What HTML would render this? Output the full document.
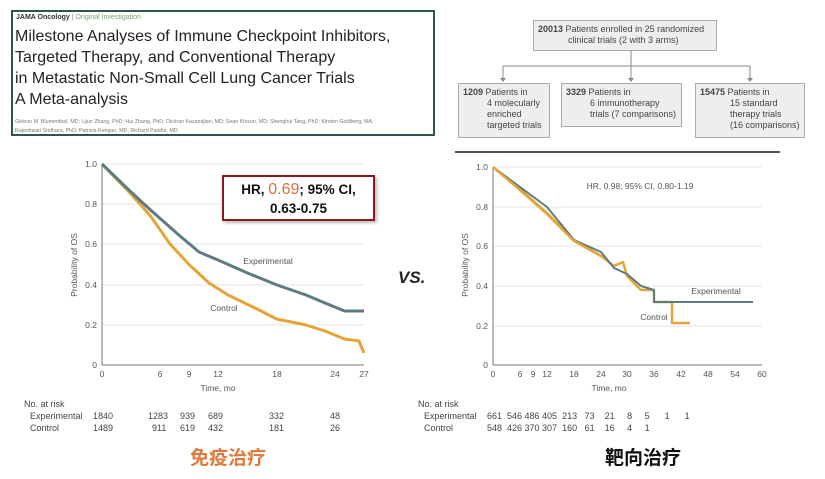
<!DOCTYPE html>
<html><head><meta charset="utf-8"><style>
body{margin:0;width:825px;height:479px;background:#fff;overflow:hidden;font-family:"Liberation Sans",sans-serif;position:relative}
.a{position:absolute;white-space:nowrap}
.fb{position:absolute;border:1px solid #aaa;background:#eee;font-size:9px;color:#444;line-height:11px;padding:3px 4px;box-sizing:border-box;white-space:nowrap;overflow:hidden}
.fb i{font-style:normal;display:block}
.rt{position:absolute;font-size:9px;color:#444;font-family:"Liberation Sans Narrow","Liberation Sans",sans-serif}
</style></head><body>
<div class="a" style="left:11px;top:10px;width:424px;height:126px;border:2px solid #2d5450;box-sizing:border-box"></div>
<div class="a" style="left:16px;top:14px;font-size:7px;font-weight:bold;color:#333">JAMA Oncology <span style="color:#888;font-weight:normal">|</span> <span style="color:#7aa37a;font-weight:normal">Original Investigation</span></div>
<div class="a" style="left:15px;top:26px;font-size:16px;line-height:21px;color:#222">Milestone Analyses of Immune Checkpoint Inhibitors,<br>Targeted Therapy, and Conventional Therapy<br>in Metastatic Non-Small Cell Lung Cancer Trials<br>A Meta-analysis</div>
<div class="a" style="left:15px;top:118px;font-size:5.3px;line-height:9px;color:#777">Gideon M. Blumenthal, MD; Lijun Zhang, PhD; Hui Zhang, PhD; Dickran Kazandjian, MD; Sean Khozin, MD; Shenghui Tang, PhD; Kirsten Goldberg, MA;<br>Rajeshwari Sridhara, PhD; Patricia Keegan, MD; Richard Pazdur, MD</div>

<svg class="a" style="left:0;top:0" width="825" height="479">
<g stroke="#888" fill="none" stroke-width="1">
<line x1="631" y1="51" x2="631" y2="79"/><line x1="503" y1="66" x2="750" y2="66"/>
<line x1="503" y1="66" x2="503" y2="80"/><line x1="750" y1="66" x2="750" y2="80"/>
</g>
<g fill="#888"><path d="M500 78h6l-3 4z"/><path d="M628 78h6l-3 4z"/><path d="M747 78h6l-3 4z"/></g>
<line x1="455" y1="152" x2="780" y2="152" stroke="#555" stroke-width="2"/>
<g stroke="#e6e6e6"><line x1="102" y1="164" x2="364" y2="164"/><line x1="102" y1="204" x2="364" y2="204"/><line x1="102" y1="244" x2="364" y2="244"/><line x1="102" y1="285" x2="364" y2="285"/><line x1="102" y1="325" x2="364" y2="325"/>
<line x1="493" y1="167" x2="762" y2="167"/><line x1="493" y1="207" x2="762" y2="207"/><line x1="493" y1="246" x2="762" y2="246"/><line x1="493" y1="286" x2="762" y2="286"/><line x1="493" y1="326" x2="762" y2="326"/></g>
<g stroke="#777"><line x1="102" y1="164" x2="102" y2="365"/><line x1="102" y1="365" x2="364" y2="365"/>
<line x1="493" y1="167" x2="493" y2="365"/><line x1="493" y1="365" x2="762" y2="365"/></g>
<g font-size="8.5" fill="#555" text-anchor="end">
<text x="97" y="167">1.0</text><text x="97" y="207">0.8</text><text x="97" y="247">0.6</text><text x="97" y="288">0.4</text><text x="97" y="328">0.2</text><text x="97" y="368">0</text>
<text x="488" y="170">1.0</text><text x="488" y="210">0.8</text><text x="488" y="249">0.6</text><text x="488" y="289">0.4</text><text x="488" y="329">0.2</text><text x="488" y="368">0</text></g>
<g font-size="8.5" fill="#555" text-anchor="middle">
<text x="102" y="377">0</text><text x="160" y="377">6</text><text x="189" y="377">9</text><text x="218" y="377">12</text><text x="277" y="377">18</text><text x="335" y="377">24</text><text x="364" y="377">27</text>
<text x="218" y="391">Time, mo</text>
<text x="493" y="377">0</text><text x="520" y="377">6</text><text x="533" y="377">9</text><text x="547" y="377">12</text><text x="574" y="377">18</text><text x="601" y="377">24</text><text x="627" y="377">30</text><text x="654" y="377">36</text><text x="681" y="377">42</text><text x="708" y="377">48</text><text x="735" y="377">54</text><text x="762" y="377">60</text>
<text x="609" y="391">Time, mo</text>
<text x="77" y="265" transform="rotate(-90 77 265)">Probability of OS</text>
<text x="468" y="265" transform="rotate(-90 468 265)">Probability of OS</text>
<text x="268" y="264">Experimental</text><text x="224" y="311">Control</text>
<text x="716" y="294">Experimental</text><text x="654" y="320">Control</text>
<text x="640" y="189">HR, 0.98; 95% CI, 0.80-1.19</text>
</g>
<g fill="none" stroke-width="3" stroke-linejoin="round">
<polyline stroke="#e3a537" points="102,164 131,194 150.5,216 170,244 189,264.5 209,283 228,295 257,309 276.6,319 306,325 325,331 344.5,339 359,341 364,353"/>
<polyline stroke="#5c7c82" points="102,164 131,192 150.5,210 180,236 199,252 218,260 247.5,273 277,285 306,295 325,303 344.5,311 364,311"/>
<polyline stroke="#e3a537" points="493,167 520,189 547,213 574,240 601,256 614,266 623,262 627,276 641,290 654,290 654,302 672,302 672,323 690,323" stroke-width="2.5"/>
<polyline stroke="#5c7c82" points="493,167 520,187 547,207 574,240 601,252 614,268 627,274 641,286 654,290 654,302 753,302" stroke-width="2"/>
</g>
<polyline fill="none" stroke="#e3a537" stroke-width="2.5" points="493,167 520,190 547,214 574,241 601,256"/>
</svg>

<div class="fb" style="left:533px;top:20px;width:184px;height:31px"><i><b>20013</b> Patients enrolled in 25 randomized</i><i style="padding-left:30px">clinical trials (2 with 3 arms)</i></div>
<div class="fb" style="left:458px;top:83px;width:92px;height:55px"><i><b>1209</b> Patients in</i><i style="padding-left:24px">4 molecularly</i><i style="padding-left:24px">enriched</i><i style="padding-left:24px">targeted trials</i></div>
<div class="fb" style="left:561px;top:83px;width:121px;height:44px"><i><b>3329</b> Patients in</i><i style="padding-left:24px">6 immunotherapy</i><i style="padding-left:24px">trials (7 comparisons)</i></div>
<div class="fb" style="left:695px;top:83px;width:110px;height:55px"><i><b>15475</b> Patients in</i><i style="padding-left:30px">15 standard</i><i style="padding-left:30px">therapy trials</i><i style="padding-left:30px">(16 comparisons)</i></div>

<div class="a" style="left:222px;top:175px;width:153px;height:46px;border:2px solid #8b1a1a;box-sizing:border-box;box-shadow:2px 2px 3px #bbb;background:#fff;text-align:center;font-weight:bold;font-size:13.5px;line-height:19px;padding-top:3px;color:#111">HR, <span style="color:#d8703f;font-size:16px;font-weight:normal">0.69</span>; 95% CI,<br>0.63-0.75</div>

<div class="a" style="left:398px;top:268px;font-size:17px;font-weight:bold;font-style:italic;color:#222">VS.</div>

<div class="rt" style="left:24px;top:399px">No. at risk</div>
<div class="rt" style="left:30px;top:411px">Experimental</div>
<div class="rt" style="left:30px;top:423px">Control</div>
<div class="rt" style="left:93px;top:411px">1840</div><div class="rt" style="left:148px;top:411px">1283</div><div class="rt" style="left:180px;top:411px">939</div><div class="rt" style="left:208px;top:411px">689</div><div class="rt" style="left:269px;top:411px">332</div><div class="rt" style="left:330px;top:411px">48</div>
<div class="rt" style="left:93px;top:423px">1489</div><div class="rt" style="left:152px;top:423px">911</div><div class="rt" style="left:180px;top:423px">619</div><div class="rt" style="left:208px;top:423px">432</div><div class="rt" style="left:269px;top:423px">181</div><div class="rt" style="left:330px;top:423px">26</div>

<div class="rt" style="left:418px;top:399px">No. at risk</div>
<div class="rt" style="left:424px;top:411px">Experimental</div>
<div class="rt" style="left:424px;top:423px">Control</div>
<div class="rt" style="left:487px;top:411px">661 &nbsp;546 486 405 &nbsp;213 &nbsp;&nbsp;73 &nbsp;&nbsp;&nbsp;21 &nbsp;&nbsp;&nbsp;&nbsp;8 &nbsp;&nbsp;&nbsp;&nbsp;5 &nbsp;&nbsp;&nbsp;&nbsp;&nbsp;1 &nbsp;&nbsp;&nbsp;&nbsp;&nbsp;1</div>
<div class="rt" style="left:487px;top:423px">548 &nbsp;426 370 307 &nbsp;160 &nbsp;&nbsp;61 &nbsp;&nbsp;&nbsp;16 &nbsp;&nbsp;&nbsp;&nbsp;4 &nbsp;&nbsp;&nbsp;&nbsp;1</div>

<div class="a" style="left:190px;top:443px;font-size:19px;font-weight:bold;color:#e07a3c;font-family:'Noto Sans CJK SC',sans-serif">免疫治疗</div>
<div class="a" style="left:605px;top:443px;font-size:19px;font-weight:bold;color:#111;font-family:'Noto Sans CJK SC',sans-serif">靶向治疗</div>
</body></html>
